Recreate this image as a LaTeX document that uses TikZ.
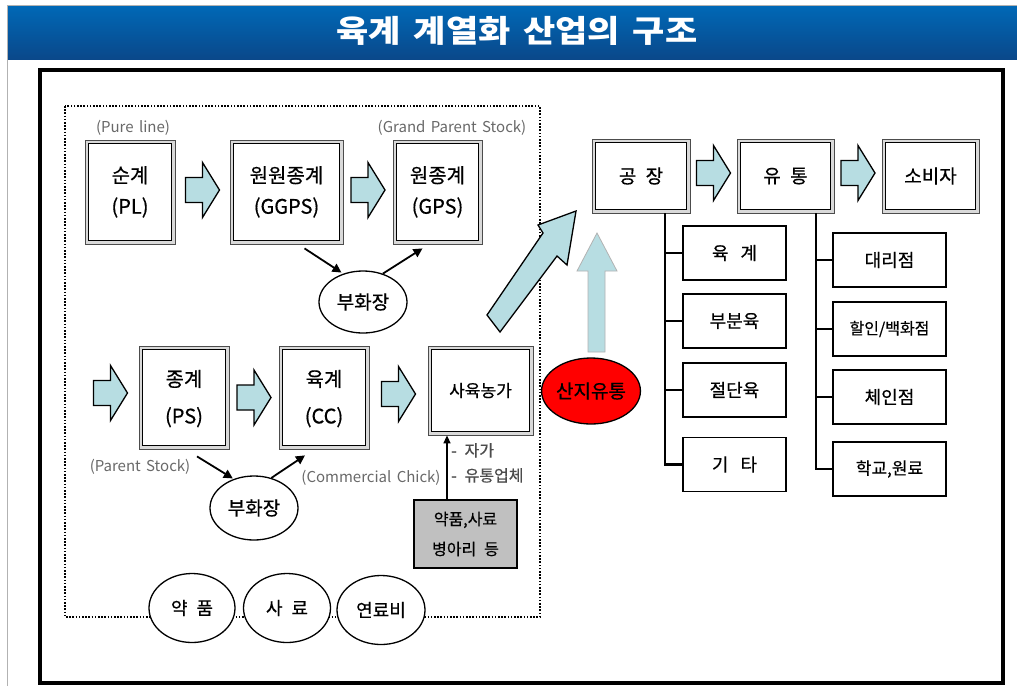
\documentclass[tikz,border=0pt]{standalone}
\usepackage{fontspec}
\setmainfont{Noto Sans CJK KR}[WordSpace=2.2, FakeBold=0.5]
\newfontfamily\latinf{Noto Sans CJK KR}
\newfontfamily\titlef{Noto Sans CJK KR}[WordSpace=1.6]
\usetikzlibrary{shapes.geometric,arrows.meta,calc}
\definecolor{ablue}{RGB}{183,221,226}
\definecolor{lbl}{RGB}{105,105,105}
\definecolor{titletop}{RGB}{0,104,182}
\definecolor{titlebot}{RGB}{10,72,138}
\definecolor{graybox}{RGB}{192,192,192}
\newcommand\bArrow[1]{\draw[blk] ([shift={(-17,-12.5)}]#1) -- ([shift={(0,-12.5)}]#1) -- ([shift={(0,-27.5)}]#1) -- ([shift={(17,0)}]#1) -- ([shift={(0,27.5)}]#1) -- ([shift={(0,12.5)}]#1) -- ([shift={(-17,12.5)}]#1) -- cycle;}
\newcommand\twol[2][5pt]{\raisebox{-#1}{\begin{tabular}{@{}c@{}}#2\end{tabular}}}
\tikzset{
  dbox/.style={draw=gray!60!black, line width=0.8pt, fill=gray!30, align=center, inner sep=0pt,
    path picture={\draw[black,line width=1.3pt,fill=white] ([shift={(3.5,3.5)}]path picture bounding box.north west) rectangle ([shift={(-3.5,-3.5)}]path picture bounding box.south east);}},
  sbox/.style={draw=black, line width=1.7pt, fill=white, inner sep=0pt, minimum height=54, font=\fontsize{18}{20}\selectfont},
  ell/.style={ellipse, draw=black, line width=1.3pt, fill=white, inner sep=0pt},
  lab/.style={text=lbl, inner sep=0pt, font=\latinf\fontsize{15}{17}\selectfont},
  blk/.style={draw=black, line width=1.3pt, fill=ablue, line join=miter},
  arr/.style={line width=1.8pt, -{Triangle[length=9pt,width=9pt]}},
  tree/.style={line width=2.6pt},
  dotframe/.style={line width=2.5pt, dash pattern=on 1.6pt off 1.6pt, draw=black}
}
\begin{document}
\begin{tikzpicture}[x=1pt,y=-1pt]
\useasboundingbox (0,0) rectangle (1017,686);
\fill[white] (0,0) rectangle (1017,686);
% outer border and title bar
\draw[gray!60, line width=1pt] (7.5,686) -- (7.5,5.5) -- (1017,5.5);
\shade[top color=titletop, bottom color=titlebot] (8,6) rectangle (1017,59);
\node[text=white, font=\titlef\fontsize{31}{34}\selectfont\bfseries] (title) at (517,31) {\scalebox{1.13}[1]{육계 계열화 산업의 구조}};
% main frame
\draw[line width=3.5pt] (40,70) rectangle (1003,683);
% dotted region
\draw[dotframe] (65,106) rectangle (540,617);

% top row
\node[dbox, minimum width=90, minimum height=104, font=\fontsize{20}{31}\selectfont] (pl) at (130,192) {\twol{순계\\(PL)}};
\node[dbox, minimum width=113, minimum height=104, font=\fontsize{20}{31}\selectfont] (ggps) at (286.5,192) {\twol{원원종계\\(GGPS)}};
\node[dbox, minimum width=89, minimum height=104, font=\fontsize{20}{31}\selectfont] (gps) at (437.5,192) {\twol{원종계\\(GPS)}};
\node[lab] (l1) at (133,128) {(Pure line)};
\node[lab] (l2) at (452,128) {(Grand Parent Stock)};
\coordinate (a1) at ($(pl.east)!0.5!(ggps.west)+(0,-2)$);
\coordinate (a2) at ($(ggps.east)!0.5!(gps.west)+(0,-2)$);
\bArrow{a1}
\bArrow{a2}
\node[ell, minimum width=88, minimum height=62, font=\fontsize{19}{21}\selectfont] (h1) at (363,302) {부화장};
\draw[arr, shorten >=2pt] ([shift={(18,4)}]ggps.south) -- (h1.125);
\draw[arr] (h1.55) -- ([shift={(-15,4)}]gps.south);

% bottom row
\node[dbox, minimum width=90, minimum height=103, font=\fontsize{20}{37}\selectfont] (ps) at (184,397.5) {\twol[4pt]{종계\\(PS)}};
\node[dbox, minimum width=90, minimum height=103, font=\fontsize{20}{37}\selectfont] (cc) at (324,397.5) {\twol[4pt]{육계\\(CC)}};
\node[dbox, minimum width=105, minimum height=89, font=\fontsize{17}{20}\selectfont] (farm) at (480.5,390.5) {사육농가};
\coordinate (b1) at (110.5,393);
\coordinate (b2) at ($(ps.east)!0.5!(cc.west)$);
\coordinate (b3) at ($(cc.east)!0.5!(farm.west)$);
\bArrow{b1}
\bArrow{b2}
\bArrow{b3}
\node[lab] (l3) at (140,467) {(Parent Stock)};
\node[lab] (l4) at (371,478) {(Commercial Chick)};
\node[ell, minimum width=88, minimum height=64, font=\fontsize{19}{21}\selectfont] (h2) at (254,508) {부화장};
\draw[arr, shorten >=1pt] ([shift={(13,7)}]ps.south) -- (h2.125);
\draw[arr] (h2.60) -- ([shift={(-19,6)}]cc.south);
\node[draw=black, line width=1.7pt, fill=graybox, align=center, inner sep=0pt, minimum width=103, minimum height=68, font=\fontsize{16}{30}\selectfont] (gb) at (465.5,534) {약품,사료\\병아리 등};
\coordinate (ax) at (447,0);
\draw[line width=1.6pt, -{Triangle[length=8pt,width=7pt]}] (gb.north -| ax) -- (farm.south -| ax);
\node[anchor=north west, align=left, inner sep=0pt, text=black!70, font=\fontsize{16}{25}\selectfont] (src) at (451,443) {- 자가\\- 유통업체};

% bottom ellipses
\node[ell, minimum width=86, minimum height=69, font=\fontsize{18}{20}\selectfont] (e1) at (192,608) {약 품};
\node[ell, minimum width=87, minimum height=69, font=\fontsize{18}{20}\selectfont] (e2) at (287,608) {사 료};
\node[ell, minimum width=88, minimum height=69, font=\fontsize{18}{20}\selectfont] (e3) at (381,610) {연료비};

% right part
\node[dbox, minimum width=98, minimum height=74, font=\fontsize{19}{21}\selectfont] (fac) at (641,176) {공 장};
\node[dbox, minimum width=97, minimum height=74, font=\fontsize{19}{21}\selectfont] (dist) at (785.5,176) {유 통};
\node[dbox, minimum width=97, minimum height=74, font=\fontsize{19}{21}\selectfont] (cons) at (930.5,176) {소비자};
\coordinate (c1) at ($(fac.east)!0.5!(dist.west)+(0,-3)$);
\coordinate (c2) at ($(dist.east)!0.5!(cons.west)+(0,-3)$);
\bArrow{c1}
\bArrow{c2}

% big diagonal arrow and vertical arrow
\draw[blk] (487,315) -- (543,233) -- (538,225) -- (576,211) -- (567,265) -- (557,256) -- (500,332) -- cycle;
\node[ellipse, draw=black, line width=1.3pt, fill=red, inner sep=0pt, minimum width=87, minimum height=66, font=\fontsize{19}{21}\selectfont] (sj) at (591,391) {산지유통};
\draw[draw=gray!60, line width=0.8pt, fill=ablue] (588,352) -- (588,271) -- (577,271) -- (597,233) -- (617,271) -- (605,271) -- (605,352) -- cycle;

% tree under factory
\node[sbox, minimum width=103] (m1) at (734.5,253) {육\hspace{12pt}계};
\node[sbox, minimum width=103] (m2) at (734.5,321) {부분육};
\node[sbox, minimum width=103] (m3) at (734.5,390) {절단육};
\node[sbox, minimum width=103] (m4) at (734.5,464.5) {기\hspace{12pt}타};
\coordinate (tx1) at (665,0);
\draw[tree] (fac.south -| tx1) |- (m4.west);
\foreach \m in {m1,m2,m3} \draw[tree] (tx1 |- \m.west) -- (\m.west);

% tree under distribution
\node[sbox, minimum width=113] (r1) at (889.5,260) {대리점};
\node[sbox, minimum width=113, font=\fontsize{16}{18}\selectfont] (r2) at (889.5,329) {할인/백화점};
\node[sbox, minimum width=113] (r3) at (889.5,397) {체인점};
\node[sbox, minimum width=113, font=\fontsize{17}{18}\selectfont] (r4) at (889.5,469) {학교,원료};
\coordinate (tx2) at (816,0);
\draw[tree] (dist.south -| tx2) |- (r4.west);
\foreach \m in {r1,r2,r3} \draw[tree] (tx2 |- \m.west) -- (\m.west);
\end{tikzpicture}
\end{document}
